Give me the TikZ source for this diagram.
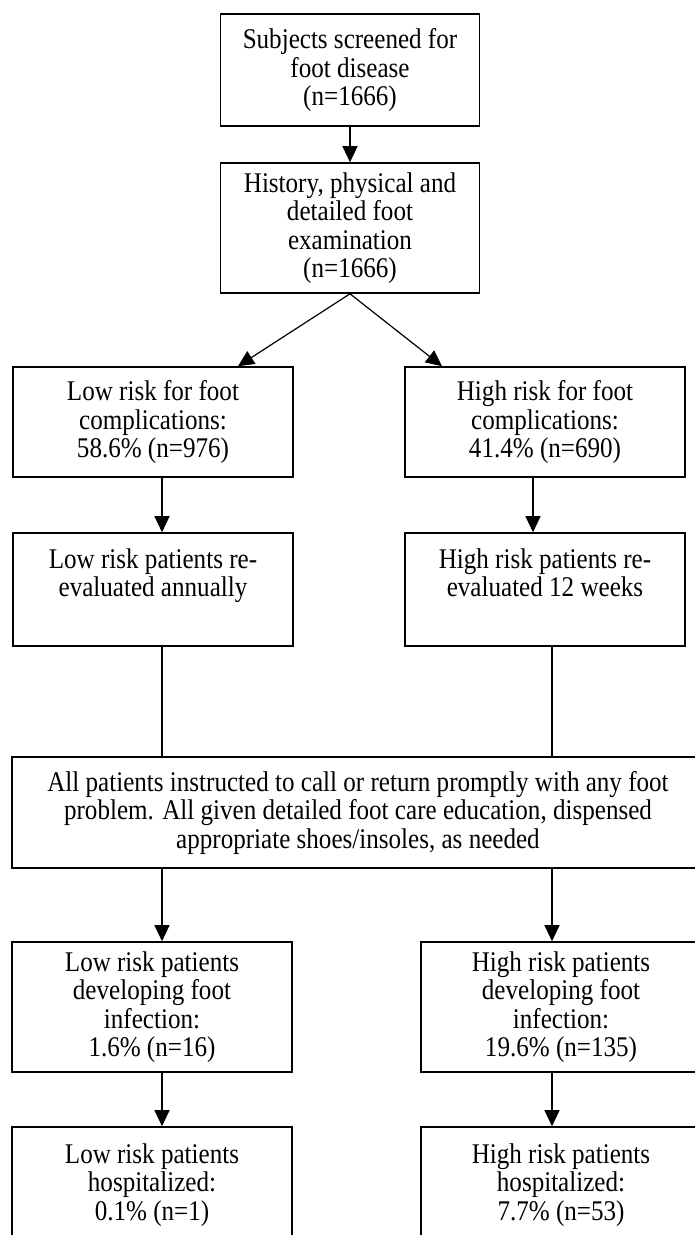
\documentclass[tikz,border=0pt]{standalone}
\usepackage{fontspec}
\setmainfont{Liberation Serif}[FakeStretch=0.88]
\usetikzlibrary{arrows.meta,calc}
\begin{document}
\begin{tikzpicture}[x=1pt,y=-1pt,
  box/.style={draw=black,line width=1.6pt,rectangle,inner sep=0pt,align=center,
    font=\fontsize{28.5}{28.5}\selectfont},
  txt/.style={inner sep=0pt,align=center,font=\fontsize{28.5}{28.5}\selectfont},
  conn/.style={draw=black,line width=1.2pt},
  arr/.style={conn,-{Triangle[width=15pt,length=16pt]}}]
\useasboundingbox (0,0) rectangle (695,1235);
\fill[white] (0,0) rectangle (695,1235);
\clip (0,0) rectangle (695,1235);
% boxes
\node[box,minimum width=259,minimum height=112] (s1) at (350,70)
  {Subjects screened for\\foot disease\\(n=1666)};
\node[box,minimum width=259,minimum height=130] (s2) at (350,228)
  {History, physical and\\detailed foot\\examination\\(n=1666)};
\node[box,minimum width=280,minimum height=110] (lr) at (153,422)
  {Low risk for foot\\complications:\\58.6\% (n=976)};
\node[box,minimum width=280,minimum height=110] (hr) at (545,422)
  {High risk for foot\\complications:\\41.4\% (n=690)};
\node[box,minimum width=280,minimum height=113] (lre) at (153,589.5) {};
\node[txt,anchor=north] (lret) at ([yshift=-16]lre.north) {Low risk patients re\mbox{-}\\evaluated annually};
\node[box,minimum width=280,minimum height=113] (hre) at (545,589.5) {};
\node[txt,anchor=north] (hret) at ([yshift=-16]hre.north) {High risk patients re\mbox{-}\\evaluated 12 weeks};
\node[box,minimum width=692,minimum height=111] (all) at (358,812.5)
  {All patients instructed to call or return promptly with any foot\\problem. All given detailed foot care education, dispensed\\appropriate shoes/insoles, as needed};
\node[box,minimum width=280,minimum height=130] (linf) at (152,1007)
  {Low risk patients\\developing foot\\infection:\\1.6\% (n=16)};
\node[box,minimum width=280,minimum height=130] (hinf) at (561,1007)
  {High risk patients\\developing foot\\infection:\\19.6\% (n=135)};
\node[box,minimum width=280,minimum height=130] (lhos) at (152,1192) {};
\node[txt,anchor=north] (lhost) at ([yshift=-17]lhos.north) {Low risk patients\\hospitalized:\\0.1\% (n=1)};
\node[box,minimum width=280,minimum height=130] (hhos) at (561,1192) {};
\node[txt,anchor=north] (hhost) at ([yshift=-17]hhos.north) {High risk patients\\hospitalized:\\7.7\% (n=53)};
% connectors
\draw[arr] (s1.south) -- (s2.north);
\draw[arr] (s2.south) -- ([xshift=85]lr.north);
\draw[arr] (s2.south) -- ([xshift=-103]hr.north);
\draw[arr] ([xshift=9]lr.south) -- ([xshift=9]lre.north);
\draw[arr] ([xshift=-12]hr.south) -- ([xshift=-12]hre.north);
\draw[conn] ([xshift=9]lre.south) -- ([xshift=9]lre.south |- all.north);
\draw[conn] ([xshift=7]hre.south) -- ([xshift=7]hre.south |- all.north);
\draw[arr] ([xshift=10]linf.north |- all.south) -- ([xshift=10]linf.north);
\draw[arr] ([xshift=-9]hinf.north |- all.south) -- ([xshift=-9]hinf.north);
\draw[arr] ([xshift=10]linf.south) -- ([xshift=10]lhos.north);
\draw[arr] ([xshift=-9]hinf.south) -- ([xshift=-9]hhos.north);
\end{tikzpicture}
\end{document}
